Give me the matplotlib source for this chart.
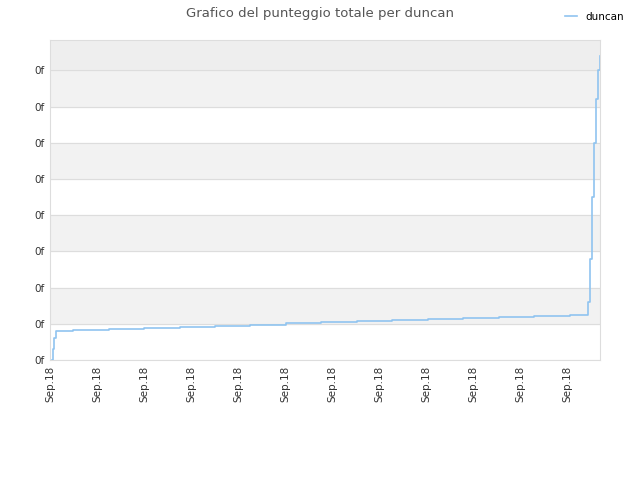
import matplotlib.pyplot as plt

# x positions (arbitrary time units) and cumulative score for duncan
x_vals = [2, 3, 4, 6, 23, 59, 94, 130, 165, 200, 236, 271, 307, 342, 378, 413,
          449, 484, 520, 537, 538, 540, 542, 544, 546, 548, 550]
y_vals = [0, 0.3, 0.6, 0.8, 0.83, 0.86, 0.89, 0.92, 0.95, 0.98, 1.01, 1.04, 1.07,
          1.1, 1.13, 1.16, 1.19, 1.21, 1.24, 1.24, 1.6, 2.8, 4.5, 6.0, 7.2, 8.0, 8.4]
tick_pos = [0, 47, 94, 141, 188, 235, 282, 329, 376, 423, 470, 517]
tick_lab = ["Sep.18"] * len(tick_pos)
ytick_pos = list(range(0, 9))
ytick_lab = ["0f"] * len(ytick_pos)

fig = plt.figure(figsize=(6.4, 4.8), dpi=100)
ax = fig.add_axes([50/640, 120/480, 550/640, 320/480])
ax.set_xlim(0, 550)
ax.set_ylim(0, 8.84)

# alternating bands
for i in range(8):
    if i % 2 == 1:
        ax.axhspan(i, i + 1, color="#f2f2f2", zorder=0)
ax.axhspan(8, 8.84, color="#eeeeee", zorder=0)
for y in ytick_pos:
    ax.axhline(y, color="#dddddd", lw=0.8, zorder=1)

ax.step(x_vals, y_vals, where="post", color="#90c4f0", lw=1.2, zorder=3, label="duncan")

ax.set_xticks(tick_pos)
ax.set_xticklabels(tick_lab, rotation=90, fontsize=7.5, color="#333333")
ax.set_yticks(ytick_pos)
ax.set_yticklabels(ytick_lab, fontsize=7.5, color="#333333")
ax.tick_params(length=0, pad=4)
for s in ax.spines.values():
    s.set_color("#dddddd")

fig.text(0.5, 0.985, "Grafico del punteggio totale per duncan", ha="center", va="top",
         fontsize=9.5, color="#555555")
fig.legend(loc="upper right", bbox_to_anchor=(0.99, 0.995), frameon=False, fontsize=7.5,
           handlelength=1.2)
fig.savefig("out.png")
